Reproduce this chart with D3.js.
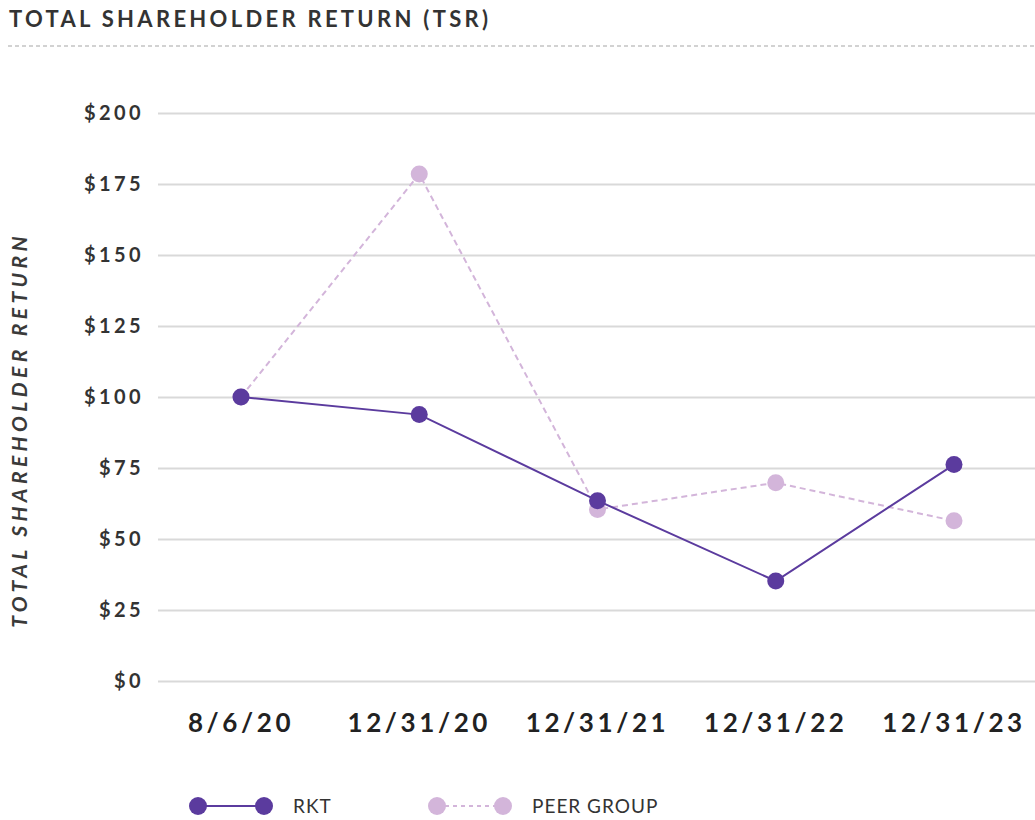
<!DOCTYPE html>
<html lang="en">
<head>
    <meta charset="UTF-8">
    <script src="https://cdn.jsdelivr.net/npm/d3@7"></script>
    <title>Total Shareholder Return (TSR)</title>
    <style>
        body {
            margin: 0;
            background: #ffffff;
            font-family: Lato, "Open Sans", sans-serif;
        }
        .grid line {
            stroke: #d9d9d9;
            stroke-width: 2px;
        }
        .grid path {
            display: none;
        }
    </style>
</head>
<body>
    <div id="chart"></div>
    <script>
        const width = 1035;
        const height = 820;

        const dates = ["8/6/20", "12/31/20", "12/31/21", "12/31/22", "12/31/23"];
        const rktValues = [100, 93.8, 63.5, 35.2, 76.2];
        const peerValues = [100, 178.5, 60.4, 69.8, 56.4];
        const yTicks = [0, 25, 50, 75, 100, 125, 150, 175, 200];

        const rktColor = "#5b3b9e";
        const peerColor = "#d3b5da";

        const svg = d3.select("#chart").append("svg")
            .attr("width", width)
            .attr("height", height);

        // header
        svg.append("text")
            .attr("x", 9)
            .attr("y", 27)
            .attr("fill", "#333")
            .style("font-size", "22px")
            .style("font-weight", 700)
            .style("letter-spacing", "3.3px")
            .text("TOTAL SHAREHOLDER RETURN (TSR)");

        svg.append("line")
            .attr("x1", 8).attr("x2", width)
            .attr("y1", 46).attr("y2", 46)
            .attr("stroke", "#c4c4c4")
            .attr("stroke-width", 1.5)
            .attr("stroke-dasharray", "4,3");

        const x = d3.scalePoint().domain(dates).range([241, 954]);
        const y = d3.scaleLinear().domain([0, 200]).range([681, 113]);

        // gridlines
        svg.append("g")
            .attr("class", "grid")
            .attr("transform", "translate(158,0)")
            .call(d3.axisRight(y).tickValues(yTicks).tickSize(width - 158).tickFormat(""));

        // y tick labels
        svg.append("g")
            .selectAll("text")
            .data(yTicks)
            .enter().append("text")
            .attr("x", 144)
            .attr("y", d => y(d))
            .attr("dy", "0.36em")
            .attr("text-anchor", "end")
            .attr("fill", "#333")
            .style("font-size", "20px")
            .style("font-weight", 700)
            .style("letter-spacing", "3.4px")
            .text(d => "$" + d);

        // x labels
        svg.append("g")
            .selectAll("text")
            .data(dates)
            .enter().append("text")
            .attr("x", d => x(d))
            .attr("y", 732)
            .attr("text-anchor", "middle")
            .attr("fill", "#222")
            .style("font-size", "26px")
            .style("font-weight", 700)
            .style("letter-spacing", "3.6px")
            .text(d => d);

        // y axis title
        svg.append("text")
            .attr("transform", "translate(27,430) rotate(-90)")
            .attr("text-anchor", "middle")
            .attr("fill", "#3a3a3a")
            .style("font-size", "21px")
            .style("font-style", "italic")
            .style("font-weight", 700)
            .style("letter-spacing", "4.4px")
            .text("TOTAL SHAREHOLDER RETURN");

        const line = d3.line()
            .x((d, i) => x(dates[i]))
            .y(d => y(d));

        const drawSeries = (values, color, dash) => {
            svg.append("path")
                .datum(values)
                .attr("d", line)
                .attr("fill", "none")
                .attr("stroke", color)
                .attr("stroke-width", 2)
                .attr("stroke-dasharray", dash);
            svg.append("g")
                .selectAll("circle")
                .data(values)
                .enter().append("circle")
                .attr("cx", (d, i) => x(dates[i]))
                .attr("cy", d => y(d))
                .attr("r", 8.5)
                .attr("fill", color);
        };

        drawSeries(peerValues, peerColor, "6,4");
        drawSeries(rktValues, rktColor, null);

        // legend
        const legendItems = [
            { label: "RKT", color: rktColor, dash: null, x0: 198 },
            { label: "PEER GROUP", color: peerColor, dash: "4,4", x0: 437 }
        ];
        const legend = svg.append("g").selectAll("g")
            .data(legendItems)
            .enter().append("g")
            .attr("transform", d => `translate(${d.x0},806)`);
        legend.append("line")
            .attr("x1", 0).attr("x2", 66)
            .attr("stroke", d => d.color)
            .attr("stroke-width", 2)
            .attr("stroke-dasharray", d => d.dash);
        legend.append("circle").attr("cx", 0).attr("r", 9).attr("fill", d => d.color);
        legend.append("circle").attr("cx", 66).attr("r", 9).attr("fill", d => d.color);
        legend.append("text")
            .attr("x", 95)
            .attr("dy", "0.36em")
            .attr("fill", "#333")
            .style("font-size", "19px")
            .style("letter-spacing", "1px")
            .text(d => d.label);
    </script>
</body>
</html>
